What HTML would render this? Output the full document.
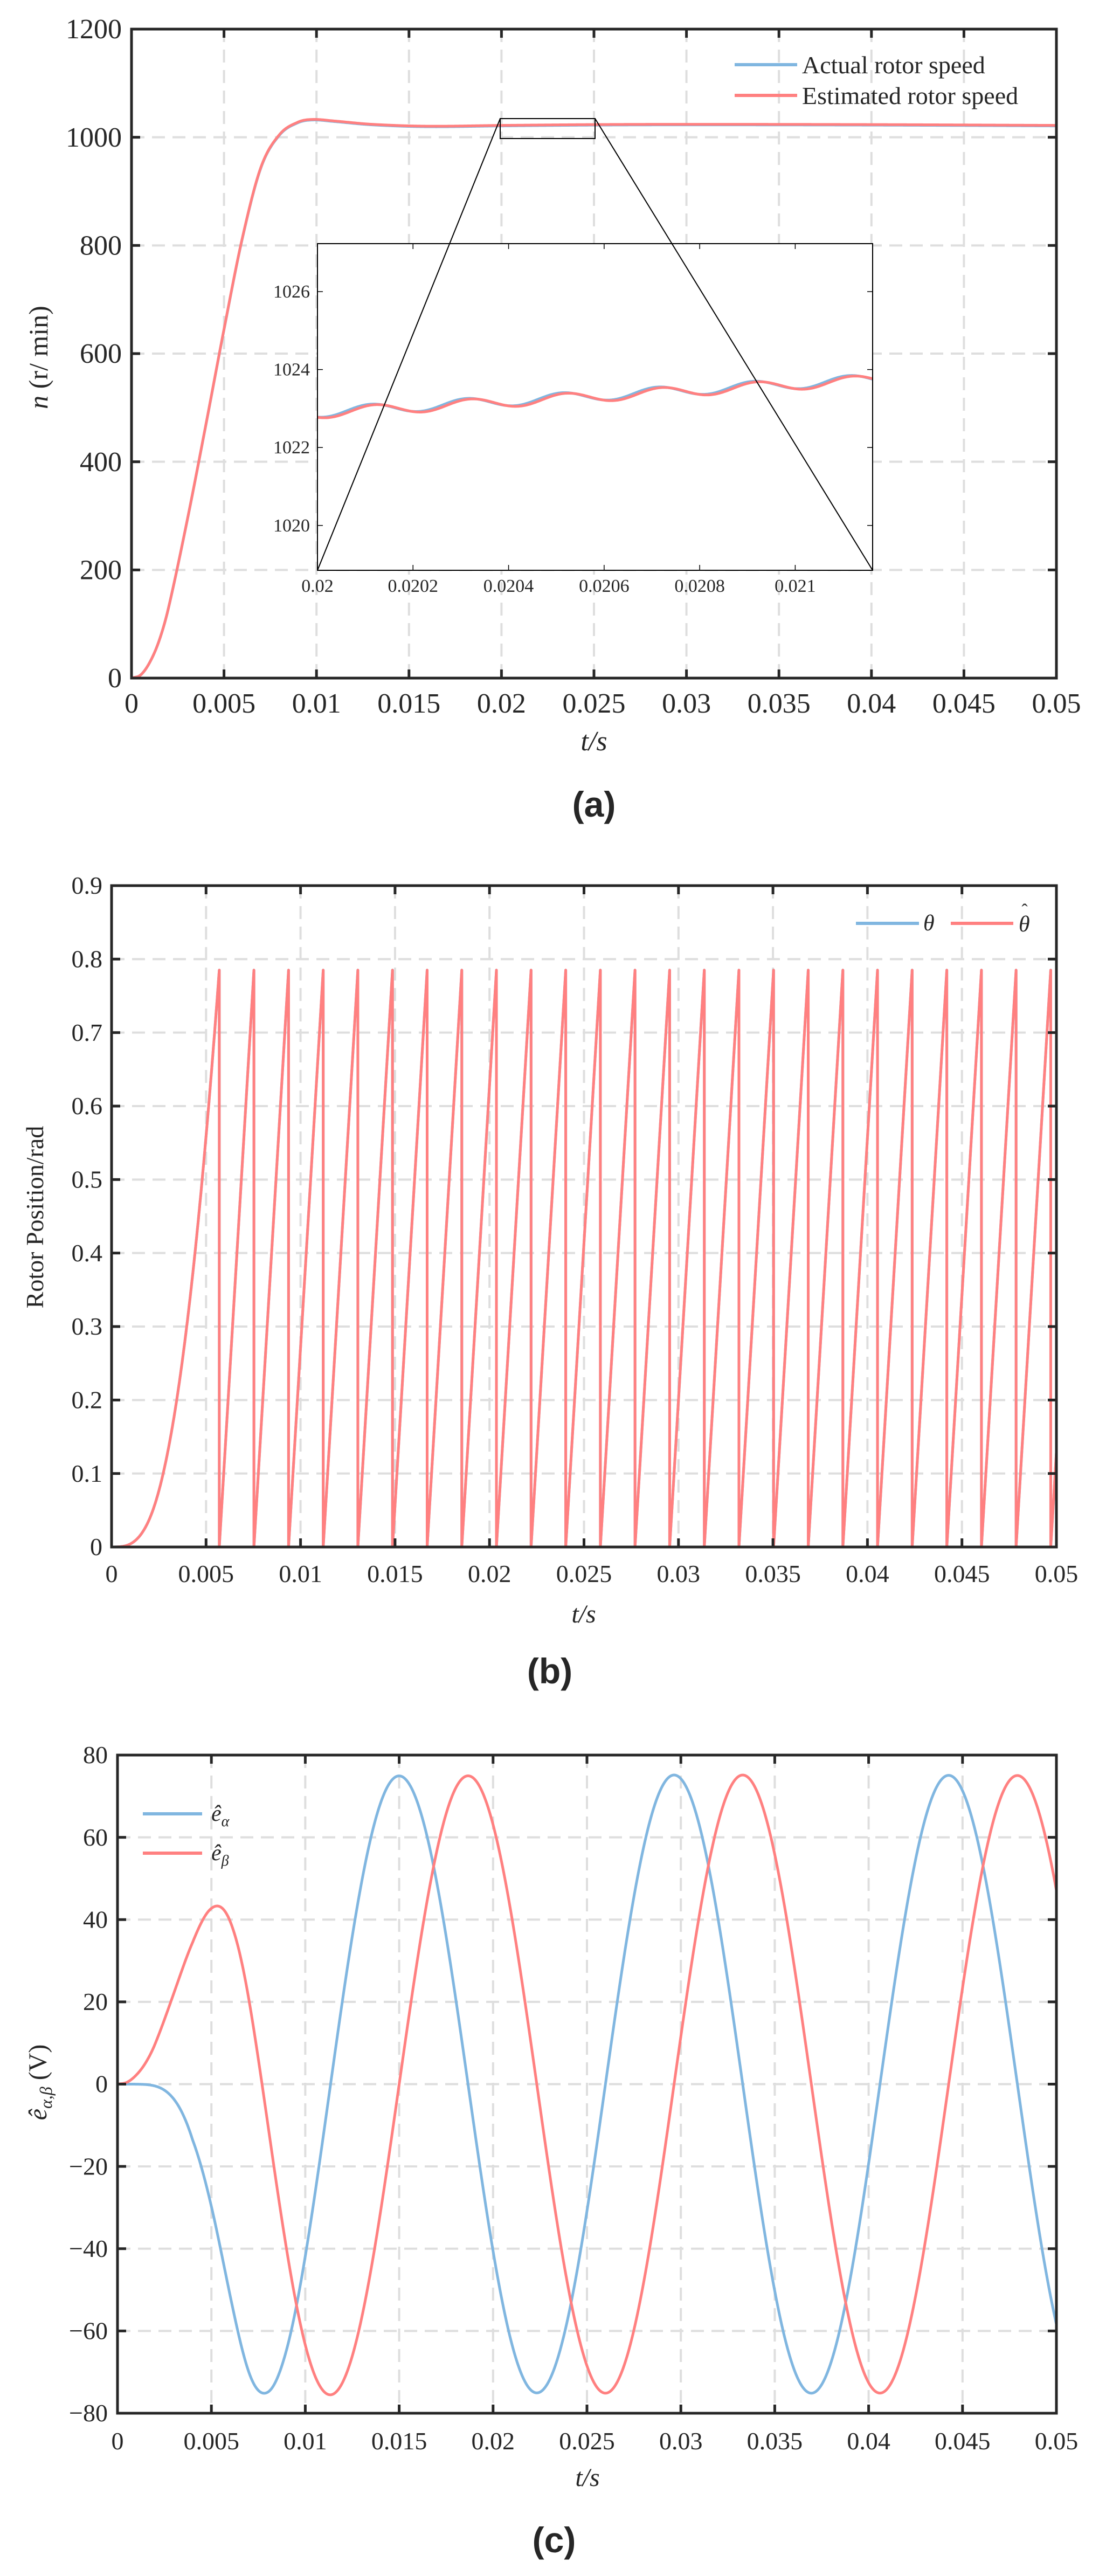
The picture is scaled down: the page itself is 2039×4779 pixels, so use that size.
<!DOCTYPE html>
<html><head><meta charset="utf-8">
<style>
html,body{margin:0;padding:0;background:#fff;}
svg{display:block;}
text{font-family:"Liberation Serif",serif;fill:#262626;}
</style></head>
<body>
<svg id="s" width="2039" height="4779" viewBox="0 0 2039 4779" xmlns="http://www.w3.org/2000/svg">
<rect width="2039" height="4779" fill="#fff"/>
</svg>
<script>
const NS="http://www.w3.org/2000/svg";
const S=document.getElementById('s');
function el(tag,attrs,txt,parent){const e=document.createElementNS(NS,tag);for(const k in attrs)e.setAttribute(k,attrs[k]);if(txt!==undefined&&txt!==null)e.textContent=txt;(parent||S).appendChild(e);return e;}
const RED="#ff8080",BLUE="#80b6e0",AX="#262626",GRID="#dedede";

const pts=[[0,0],[0.0005,6],[0.001,30],[0.0015,70],[0.002,130],[0.003,290],[0.004,465],[0.005,645],[0.006,815],[0.007,945],[0.008,1005],[0.009,1028],[0.0098,1033],[0.011,1030],[0.013,1024],[0.016,1020.5],[0.02,1022],[0.025,1023.5],[0.03,1024],[0.04,1023.5],[0.05,1022]];
function speed(t){
 let i=0;while(i<pts.length-2&&t>pts[i+1][0])i++;
 const p0=pts[Math.max(i-1,0)],p1=pts[i],p2=pts[i+1],p3=pts[Math.min(i+2,pts.length-1)];
 const u=(t-p1[0])/(p2[0]-p1[0]);
 const m1=(p2[1]-p0[1])/(p2[0]-p0[0])*(p2[0]-p1[0]);
 const m2=(p3[1]-p1[1])/(p3[0]-p1[0])*(p2[0]-p1[0]);
 const u2=u*u,u3=u2*u;
 return (2*u3-3*u2+1)*p1[1]+(u3-2*u2+u)*m1+(-2*u3+3*u2)*p2[1]+(u3-u2)*m2;
}
const N=20000,dt=0.05/N;const I=new Float64Array(N+1);
for(let k=1;k<=N;k++){I[k]=I[k-1]+0.5*(speed((k-1)*dt)+speed(k*dt))*dt;}
function Iat(t){const k=Math.min(N,Math.max(0,Math.round(t/dt)));return I[k];}

function axes(o){
 const {L,R,T,B,xmin,xmax,ymin,ymax,xt,yt}=o;
 const X=v=>L+(v-xmin)/(xmax-xmin)*(R-L), Y=v=>B-(v-ymin)/(ymax-ymin)*(B-T);
 const g=el('g',{});
 xt.forEach(v=>{if(v>xmin&&v<xmax)el('line',{x1:X(v),x2:X(v),y1:T,y2:B,stroke:GRID,'stroke-width':4,'stroke-dasharray':'24 14'},null,g);});
 yt.forEach(v=>{if(v>ymin&&v<ymax)el('line',{x1:L,x2:R,y1:Y(v),y2:Y(v),stroke:GRID,'stroke-width':4,'stroke-dasharray':'24 14'},null,g);});
 o.X=X;o.Y=Y;o.g=g;return o;
}
function frame(o){
 const {L,R,T,B,xt,yt,xl,yl,fs,ylx,xmin,xmax,ymin,ymax,X,Y}=o;
 const g=el('g',{});
 xt.forEach((v,i)=>{const x=X(v);
  if(v>xmin&&v<xmax){el('line',{x1:x,x2:x,y1:B,y2:B-16,stroke:AX,'stroke-width':5},null,g);el('line',{x1:x,x2:x,y1:T,y2:T+16,stroke:AX,'stroke-width':5},null,g);}
  el('text',{x:x,y:o.xly,'font-size':fs,'text-anchor':'middle'},xl[i],g);});
 yt.forEach((v,i)=>{const y=Y(v);
  if(v>ymin&&v<ymax){el('line',{x1:L,x2:L+16,y1:y,y2:y,stroke:AX,'stroke-width':5},null,g);el('line',{x1:R,x2:R-16,y1:y,y2:y,stroke:AX,'stroke-width':5},null,g);}
  el('text',{x:ylx,y:y+fs*0.33,'font-size':fs,'text-anchor':'end'},yl[i],g);});
 el('rect',{x:L,y:T,width:R-L,height:B-T,fill:'none',stroke:AX,'stroke-width':5},null,g);
}
function path(o,f,t0,t1,n,col,w,parent){
 let d='';for(let k=0;k<=n;k++){const t=t0+(t1-t0)*k/n;d+=(k?'L':'M')+o.X(t).toFixed(2)+','+o.Y(f(t)).toFixed(2);}
 el('path',{d:d,fill:'none',stroke:col,'stroke-width':w,'stroke-linejoin':'round'},null,parent);
}
const xt=[0,0.005,0.01,0.015,0.02,0.025,0.03,0.035,0.04,0.045,0.05];
const xl=['0','0.005','0.01','0.015','0.02','0.025','0.03','0.035','0.04','0.045','0.05'];

// ===== (a) =====
const A=axes({L:244,R:1960,T:54,B:1258,xmin:0,xmax:0.05,ymin:0,ymax:1200,xt:xt,xl:xl,yt:[0,200,400,600,800,1000,1200],yl:['0','200','400','600','800','1000','1200'],fs:52,ylx:226,xly:1322});
path(A,t=>speed(t)*0.999,0,0.05,1500,BLUE,5);
path(A,speed,0,0.05,1500,RED,5);
frame(A);
el('text',{x:0,y:0,'font-size':50,'text-anchor':'middle',transform:'translate(88,663) rotate(-90)'},null).innerHTML='<tspan font-style="italic">n</tspan> (r/ min)';
el('text',{x:1102,y:1392,'font-size':52,'text-anchor':'middle','font-style':'italic'},'t/s');
el('rect',{x:928,y:220,width:176,height:37,fill:'none',stroke:'#000','stroke-width':2});
{
 const L=589,R=1619,T=452,B=1058,x0=0.02,x1=0.021162;
 const X=v=>L+(v-x0)/(x1-x0)*(R-L), Y=v=>541+(1026-v)*72.3;
 el('rect',{x:L,y:T,width:R-L,height:B-T,fill:'#fff',stroke:'none'});
 const f=(t,ph)=>1022.88+(t-0.02)/0.00116*0.85+0.13*Math.sin(2*Math.PI*(t-0.02)/0.0002-2.2+ph);
 let d1='',d2='';
 for(let k=0;k<=600;k++){const t=x0+(x1-x0)*k/600;d1+=(k?'L':'M')+X(t).toFixed(2)+','+Y(f(t,0.25)+0.02).toFixed(2);d2+=(k?'L':'M')+X(t).toFixed(2)+','+Y(f(t,0)).toFixed(2);}
 el('path',{d:d1,fill:'none',stroke:BLUE,'stroke-width':5});
 el('path',{d:d2,fill:'none',stroke:RED,'stroke-width':5});
 [0.02,0.0202,0.0204,0.0206,0.0208,0.021].forEach(v=>{const x=X(v);
  if(v>x0){el('line',{x1:x,x2:x,y1:B,y2:B-10,stroke:'#000','stroke-width':1.5});el('line',{x1:x,x2:x,y1:T,y2:T+10,stroke:'#000','stroke-width':1.5});}
  el('text',{x:x,y:1098,'font-size':34,'text-anchor':'middle',fill:'#000'},String(v));});
 [1020,1022,1024,1026].forEach(v=>{const y=Y(v);
  el('line',{x1:L,x2:L+10,y1:y,y2:y,stroke:'#000','stroke-width':1.5});el('line',{x1:R,x2:R-10,y1:y,y2:y,stroke:'#000','stroke-width':1.5});
  el('text',{x:L-14,y:y+11,'font-size':34,'text-anchor':'end',fill:'#000'},String(v));});
 el('rect',{x:L,y:T,width:R-L,height:B-T,fill:'none',stroke:'#000','stroke-width':2});
 el('line',{x1:928,y1:220,x2:589,y2:1058,stroke:'#000','stroke-width':2});
 el('line',{x1:1104,y1:220,x2:1619,y2:1058,stroke:'#000','stroke-width':2});
}
el('line',{x1:1363,x2:1479,y1:120,y2:120,stroke:BLUE,'stroke-width':6});
el('line',{x1:1363,x2:1479,y1:177,y2:177,stroke:RED,'stroke-width':6});
el('text',{x:1488,y:136,'font-size':46,fill:'#000'},'Actual rotor speed');
el('text',{x:1488,y:193,'font-size':46,fill:'#000'},'Estimated rotor speed');
el('text',{x:1102,y:1515,'font-size':66,'text-anchor':'middle','font-weight':'bold',style:'font-family:"Liberation Sans",sans-serif',fill:'#000'},'(a)');

// ===== (b) =====
const Bp=axes({L:207,R:1960,T:1643,B:2870,xmin:0,xmax:0.05,ymin:0,ymax:0.9,xt:xt,xl:xl,yt:[0,0.1,0.2,0.3,0.4,0.5,0.6,0.7,0.8,0.9],yl:['0','0.1','0.2','0.3','0.4','0.5','0.6','0.7','0.8','0.9'],fs:46,ylx:190,xly:2935});
{
 const tp=0.0057,per=0.0018333,pk=0.785,I0=Iat(tp);
 function segs(){
  let d='';
  for(let k=0;k<=200;k++){const t=tp*k/200;d+=(k?'L':'M')+Bp.X(t).toFixed(2)+','+Bp.Y(pk*Iat(t)/I0).toFixed(2);}
  let t=tp;
  while(t<0.05){
   d+='L'+Bp.X(t).toFixed(2)+','+Bp.Y(0).toFixed(2);
   const te=Math.min(t+per,0.05);
   d+='L'+Bp.X(te).toFixed(2)+','+Bp.Y(pk*(te-t)/per).toFixed(2);
   if(te<0.05)d+='L'+Bp.X(te).toFixed(2)+','+Bp.Y(pk).toFixed(2);
   t=te;
  }
  return d;
 }
 el('path',{d:segs(),fill:'none',stroke:BLUE,'stroke-width':5,'stroke-linejoin':'round'});
 el('path',{d:segs(),fill:'none',stroke:RED,'stroke-width':5,'stroke-linejoin':'round'});
}
frame(Bp);
el('text',{x:0,y:0,'font-size':46,'text-anchor':'middle',transform:'translate(80,2258) rotate(-90)'},'Rotor Position/rad');
el('text',{x:1083,y:3010,'font-size':48,'text-anchor':'middle','font-style':'italic'},'t/s');
el('line',{x1:1588,x2:1705,y1:1713,y2:1713,stroke:BLUE,'stroke-width':6});
el('text',{x:1713,y:1726,'font-size':42,'font-style':'italic',fill:'#000'},'θ');
el('line',{x1:1764,x2:1880,y1:1713,y2:1713,stroke:RED,'stroke-width':6});
el('text',{x:1890,y:1728,'font-size':42,'font-style':'italic',fill:'#000'},'θ');
el('text',{x:1901,y:1700,'font-size':34,'text-anchor':'middle',fill:'#000'},'ˆ');
el('text',{x:1020,y:3123,'font-size':66,'text-anchor':'middle','font-weight':'bold',style:'font-family:"Liberation Sans",sans-serif',fill:'#000'},'(b)');

// ===== (c) =====
const C=axes({L:218,R:1960,T:3256,B:4477,xmin:0,xmax:0.05,ymin:-80,ymax:80,xt:xt,xl:xl,yt:[-80,-60,-40,-20,0,20,40,60,80],yl:['−80','−60','−40','−20','0','20','40','60','80'],fs:46,ylx:200,xly:4544});
{
 const c=429/1022, phi=4.712-c*Iat(0.015);
 const th=t=>c*Iat(t)+phi*Math.min(1,Iat(t)/Iat(0.004));
 const amp=t=>75*speed(t)/1022*(1+0.1*Math.exp(-Math.pow((t-0.005)/0.0025,2)));
 path(C,t=>-amp(t)*Math.sin(th(t)),0,0.05,2000,BLUE,5);
 path(C,t=>amp(t)*Math.cos(th(t)),0,0.05,2000,RED,5);
}
frame(C);
el('text',{x:0,y:0,'font-size':48,'text-anchor':'middle',transform:'translate(86,3863) rotate(-90)'},null).innerHTML='<tspan font-style="italic">ê</tspan><tspan font-size="32" dy="10" font-style="italic">α,β</tspan><tspan dy="-10"> (V)</tspan>';
el('text',{x:1090,y:4612,'font-size':48,'text-anchor':'middle','font-style':'italic'},'t/s');
el('line',{x1:265,x2:375,y1:3365,y2:3365,stroke:BLUE,'stroke-width':6});
el('text',{x:392,y:3378,'font-size':42,'font-style':'italic',fill:'#000'},null).innerHTML='ê<tspan font-size="28" dy="10">α</tspan>';
el('line',{x1:265,x2:375,y1:3438,y2:3438,stroke:RED,'stroke-width':6});
el('text',{x:392,y:3451,'font-size':42,'font-style':'italic',fill:'#000'},null).innerHTML='ê<tspan font-size="28" dy="10">β</tspan>';
el('text',{x:1028,y:4735,'font-size':66,'text-anchor':'middle','font-weight':'bold',style:'font-family:"Liberation Sans",sans-serif',fill:'#000'},'(c)');
</script>
</body></html>
